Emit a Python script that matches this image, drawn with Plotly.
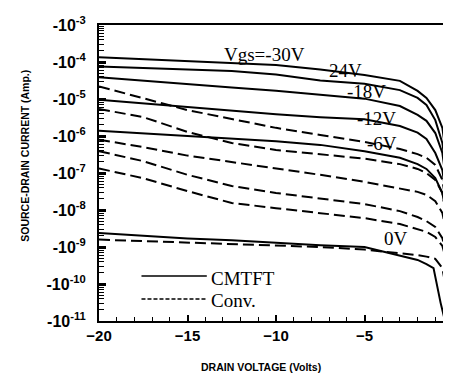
import numpy as np
import plotly.graph_objects as go

# Drain voltage (V) sample points
VD = [-20, -17.5, -15, -12.5, -10, -7.5, -5, -3, -2, -1.5, -1, -0.6, -0.3, -0.1, -0.02]
VD_OFF_CMTFT = [-20, -17.5, -15, -12.5, -10, -7.5, -5, -3, -2, -1.5, -1.1, -0.7, -0.35, -0.1]

# log10 |Id| (A) -- CMTFT (solid)
cmtft_m30 = [-3.87, -3.92, -3.96, -4.01, -4.08, -4.20, -4.35, -4.51, -4.78, -4.97, -5.30, -5.78, -6.86, -8.76, -12]
cmtft_m24 = [-4.12, -4.16, -4.20, -4.24, -4.34, -4.50, -4.59, -4.76, -4.97, -5.16, -5.57, -6.19, -7.27, -9.03, -12]
cmtft_m18 = [-4.41, -4.51, -4.61, -4.69, -4.78, -4.88, -4.99, -5.19, -5.43, -5.59, -5.92, -6.46, -7.54, -9.30, -12]
cmtft_m12 = [-5.02, -5.12, -5.22, -5.30, -5.41, -5.49, -5.55, -5.73, -5.91, -6.08, -6.46, -6.92, -7.95, -9.57, -12]
cmtft_m6 = [-5.86, -5.93, -6.00, -6.05, -6.14, -6.24, -6.41, -6.59, -6.76, -6.89, -7.14, -7.54, -8.35, -9.84, -12]
cmtft_0 = [-8.62, -8.70, -8.77, -8.82, -8.89, -8.95, -9.00, -9.22, -9.35, -9.46, -9.57, -10.51, -11.2, -12]

# log10 |Id| (A) -- Conventional TFT (dashed)
conv_m30 = [-4.66, -4.97, -5.30, -5.54, -5.78, -5.97, -6.16, -6.35, -6.49, -6.59, -6.78, -7.19, -8.08, -9.84, -12]
conv_m24 = [-5.27, -5.49, -5.89, -6.19, -6.38, -6.49, -6.61, -6.76, -6.89, -7.00, -7.19, -7.54, -8.35, -9.84, -12]
conv_m18 = [-6.10, -6.30, -6.53, -6.70, -6.89, -7.05, -7.24, -7.41, -7.51, -7.59, -7.76, -8.08, -8.76, -10.11, -12]
conv_m12 = [-6.41, -6.68, -7.05, -7.35, -7.54, -7.68, -7.84, -8.03, -8.19, -8.30, -8.46, -8.76, -9.30, -10.38, -12]
conv_m6 = [-6.88, -7.14, -7.49, -7.81, -7.95, -8.08, -8.22, -8.38, -8.51, -8.59, -8.73, -8.97, -9.51, -10.51, -12]
conv_0 = [-8.80, -8.84, -8.88, -8.92, -8.96, -9.00, -9.07, -9.16, -9.22, -9.26, -9.32, -9.57, -10.38, -11.5, -12]

Y_TICK_EXP = [-3, -4, -5, -6, -7, -8, -9, -10, -11]
Y_TICK_TEXT = ["-10<sup>%d</sup>" % e for e in Y_TICK_EXP]
X_TICKS = [-20, -15, -10, -5, 0]

curve_labels = [
    ("Vgs=-30V", -10.64, -3.81),
    ("24V", -6.09, -4.22),
    ("-18V", -4.86, -4.81),
    ("-12V", -4.30, -5.54),
    ("-6V", -4.02, -6.19),
    ("0V", -3.24, -8.78),
]

fig = go.Figure()
solid = [cmtft_m30, cmtft_m24, cmtft_m18, cmtft_m12, cmtft_m6]
dashed = [conv_m30, conv_m24, conv_m18, conv_m12, conv_m6, conv_0]
for v in dashed:
    fig.add_trace(go.Scatter(x=VD, y=10 ** np.array(v), mode="lines",
                             line=dict(color="black", width=2, dash="11px,5px"),
                             showlegend=False, hoverinfo="skip"))
for v in solid:
    fig.add_trace(go.Scatter(x=VD, y=10 ** np.array(v), mode="lines",
                             line=dict(color="black", width=2),
                             showlegend=False, hoverinfo="skip"))
fig.add_trace(go.Scatter(x=VD_OFF_CMTFT, y=10 ** np.array(cmtft_0), mode="lines",
                         line=dict(color="black", width=2),
                         showlegend=False, hoverinfo="skip"))

serif = "Liberation Serif"
for txt, xv, yv in curve_labels:
    fig.add_annotation(x=xv, y=yv, text=txt, showarrow=False,
                       font=dict(family=serif, size=19, color="black"),
                       xanchor="center", yanchor="middle")

# manual legend
fig.add_shape(type="line", xref="paper", yref="paper", x0=0.120, x1=0.3045, y0=0.152, y1=0.152,
              line=dict(color="black", width=1.5))
fig.add_shape(type="line", xref="paper", yref="paper", x0=0.120, x1=0.3045, y0=0.0743, y1=0.0743,
              line=dict(color="black", width=1.5, dash="4px,2px"))
fig.add_annotation(xref="paper", yref="paper", x=0.31, y=0.145, text="CMTFT", showarrow=False,
                   xanchor="left", yanchor="middle", font=dict(family=serif, size=19, color="black"))
fig.add_annotation(xref="paper", yref="paper", x=0.31, y=0.07, text="Conv.", showarrow=False,
                   xanchor="left", yanchor="middle", font=dict(family=serif, size=19, color="black"))

# axis titles
fig.add_annotation(xref="paper", yref="paper", x=-0.21, y=0.557, text="SOURCE-DRAIN CURRENT (Amp.)",
                   textangle=-90, showarrow=False, xanchor="center", yanchor="middle",
                   font=dict(family="Liberation Sans", size=10.5, color="black", weight="bold"))
fig.add_annotation(xref="paper", yref="paper", x=0.458, y=-0.155, text="DRAIN VOLTAGE (Volts)",
                   showarrow=False, xanchor="center", yanchor="middle",
                   font=dict(family="Liberation Sans", size=10.5, color="black", weight="bold"))

fig.update_layout(
    width=451, height=376,
    margin=dict(l=91, r=2, t=17, b=63),
    paper_bgcolor="white", plot_bgcolor="white",
    showlegend=False,
)
fig.update_xaxes(range=[-20, 0], tickvals=X_TICKS, ticks="inside", ticklen=6, tickwidth=1.5,
                 tickcolor="black", showgrid=False, zeroline=False, ticklabeloverflow="allow",
                 showline=True, linecolor="black", linewidth=2, mirror=True,
                 tickfont=dict(family="Liberation Sans", size=15, color="black", weight="bold"),
                 minor=dict(dtick=1, ticks="inside", ticklen=4, tickcolor="black", tickwidth=1, showgrid=False))
fig.update_yaxes(type="log", range=[-11, -3], tickvals=[10.0 ** e for e in Y_TICK_EXP],
                 ticktext=Y_TICK_TEXT, ticks="inside", ticklen=7, tickwidth=3, tickcolor="black",
                 showgrid=False, zeroline=False, showline=True, linecolor="black", linewidth=2,
                 mirror=True, ticklabelstandoff=8,
                 tickfont=dict(family="Liberation Sans", size=16, color="black", weight="bold"),
                 minor=dict(dtick="D1", ticks="inside", ticklen=5, tickcolor="black", tickwidth=1,
                            showgrid=False))

fig.write_html("out.html")
